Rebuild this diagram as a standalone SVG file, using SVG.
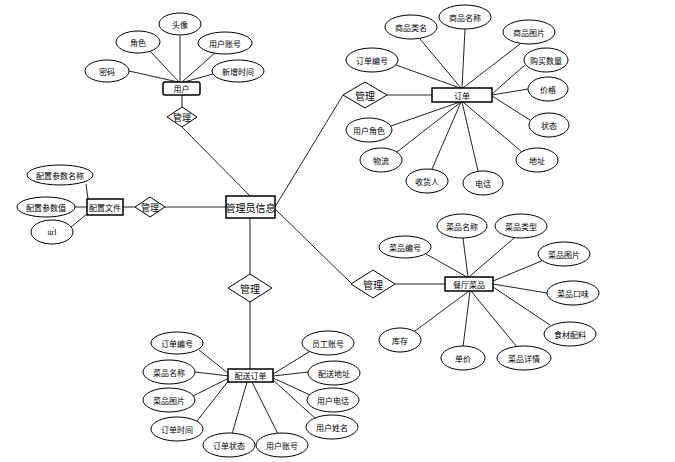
<svg xmlns="http://www.w3.org/2000/svg" width="675" height="462" viewBox="0 0 675 462">
<style>
.e{fill:#fff;stroke:#000;stroke-width:1}
.r{fill:#fff;stroke:#000;stroke-width:1.5}
.d{fill:#fff;stroke:#000;stroke-width:1}
.l{stroke:#222;stroke-width:1;fill:none}
text{font-family:"Noto Sans CJK SC","Liberation Sans",sans-serif;font-size:8px;text-anchor:middle;dominant-baseline:central;fill:#000}
.b{font-size:10px}
.m{font-size:9px}
</style>
<rect width="675" height="462" fill="#fff"/>
<g id="connectors">
<!-- user -->
<line class="l" x1="129" y1="71" x2="178" y2="82"/>
<line class="l" x1="150" y1="51" x2="179" y2="82"/>
<line class="l" x1="180" y1="36" x2="180" y2="82"/>
<line class="l" x1="216" y1="52" x2="182" y2="82"/>
<line class="l" x1="213" y1="74" x2="184" y2="82"/>
<line class="l" x1="182" y1="95" x2="182" y2="107"/>
<line class="l" x1="182" y1="127" x2="250" y2="196"/>
<!-- order -->
<line class="l" x1="275" y1="207" x2="343" y2="95"/>
<line class="l" x1="387" y1="95" x2="432" y2="95"/>
<line class="l" x1="396" y1="65" x2="460" y2="88"/>
<line class="l" x1="420" y1="39" x2="461" y2="88"/>
<line class="l" x1="465" y1="29" x2="462" y2="88"/>
<line class="l" x1="520" y1="44" x2="463" y2="88"/>
<line class="l" x1="525" y1="65" x2="492" y2="94"/>
<line class="l" x1="528" y1="89" x2="492" y2="95"/>
<line class="l" x1="530" y1="120" x2="492" y2="96"/>
<line class="l" x1="522" y1="152" x2="463" y2="102"/>
<line class="l" x1="478" y1="171" x2="462" y2="102"/>
<line class="l" x1="432" y1="169" x2="461" y2="102"/>
<line class="l" x1="397" y1="152" x2="461" y2="102"/>
<line class="l" x1="391" y1="126" x2="460" y2="102"/>
<!-- config -->
<line class="l" x1="226" y1="207" x2="165" y2="207"/>
<line class="l" x1="135" y1="207" x2="123" y2="207"/>
<line class="l" x1="86" y1="184" x2="88" y2="199"/>
<line class="l" x1="75" y1="207" x2="87" y2="207"/>
<line class="l" x1="71" y1="227" x2="87" y2="214"/>
<!-- dish -->
<line class="l" x1="275" y1="209" x2="352" y2="284"/>
<line class="l" x1="395" y1="284" x2="445" y2="284"/>
<line class="l" x1="426" y1="254" x2="467" y2="277"/>
<line class="l" x1="463" y1="238" x2="468" y2="277"/>
<line class="l" x1="514" y1="238" x2="469" y2="277"/>
<line class="l" x1="544" y1="260" x2="493" y2="281"/>
<line class="l" x1="547" y1="293" x2="493" y2="284"/>
<line class="l" x1="550" y1="325" x2="493" y2="287"/>
<line class="l" x1="517" y1="347" x2="471" y2="291"/>
<line class="l" x1="463" y1="347" x2="470" y2="291"/>
<line class="l" x1="415" y1="331" x2="469" y2="291"/>
<!-- delivery -->
<line class="l" x1="250" y1="218" x2="250" y2="274"/>
<line class="l" x1="250" y1="302" x2="250" y2="369"/>
<line class="l" x1="199" y1="350" x2="229" y2="374"/>
<line class="l" x1="195" y1="372" x2="229" y2="376"/>
<line class="l" x1="193" y1="396" x2="229" y2="378"/>
<line class="l" x1="197" y1="421" x2="229" y2="380"/>
<line class="l" x1="232" y1="434" x2="247" y2="382"/>
<line class="l" x1="278" y1="434" x2="252" y2="382"/>
<line class="l" x1="312" y1="350" x2="273" y2="374"/>
<line class="l" x1="308" y1="372" x2="273" y2="376"/>
<line class="l" x1="310" y1="395" x2="273" y2="378"/>
<line class="l" x1="316" y1="419" x2="273" y2="380"/>
</g>
<g id="admin">
<rect class="r" x="226" y="196" width="49" height="22"/>
<text class="b" x="250.5" y="207">管理员信息</text>
</g>
<g id="user">
<rect class="r" x="163" y="82" width="37" height="13" rx="2"/>
<text x="181.5" y="88.5">用户</text>
</g>
<g id="user-manage">
<polygon class="d" points="182,107 197,117 182,127 167,117"/>
<text class="m" x="182" y="117">管理</text>
</g>
<g id="u-pwd"><ellipse class="e" cx="107" cy="71" rx="22" ry="11"/><text x="107" y="71">密码</text></g>
<g id="u-role"><ellipse class="e" cx="138" cy="42" rx="22" ry="11"/><text x="138" y="42">角色</text></g>
<g id="u-avatar"><ellipse class="e" cx="180" cy="24" rx="21" ry="11"/><text x="180" y="24">头像</text></g>
<g id="u-acct"><ellipse class="e" cx="225" cy="43" rx="27" ry="11"/><text x="225" y="43">用户账号</text></g>
<g id="u-time"><ellipse class="e" cx="238" cy="71" rx="26" ry="11"/><text x="238" y="71">新增时间</text></g>

<g id="order-manage">
<polygon class="d" points="365,82 387,95 365,108 343,95"/>
<text class="b" x="365" y="95">管理</text>
</g>
<g id="order">
<rect class="r" x="432" y="88" width="60" height="14"/>
<text x="462" y="95">订单</text>
</g>
<g id="o-cat"><ellipse class="e" cx="411" cy="27" rx="26" ry="12"/><text x="411" y="27">商品类名</text></g>
<g id="o-name"><ellipse class="e" cx="465" cy="17" rx="26" ry="12"/><text x="465" y="17">商品名称</text></g>
<g id="o-img"><ellipse class="e" cx="529" cy="32" rx="26" ry="12"/><text x="529" y="32">商品图片</text></g>
<g id="o-no"><ellipse class="e" cx="372" cy="60" rx="26" ry="12"/><text x="372" y="60">订单编号</text></g>
<g id="o-qty"><ellipse class="e" cx="546" cy="60" rx="22" ry="12"/><text x="546" y="60">购买数量</text></g>
<g id="o-price"><ellipse class="e" cx="548" cy="89" rx="20" ry="12"/><text x="548" y="89">价格</text></g>
<g id="o-status"><ellipse class="e" cx="549" cy="125" rx="20" ry="12"/><text x="549" y="125">状态</text></g>
<g id="o-addr"><ellipse class="e" cx="537" cy="160" rx="21" ry="12"/><text x="537" y="160">地址</text></g>
<g id="o-tel"><ellipse class="e" cx="483" cy="183" rx="20" ry="12"/><text x="483" y="183">电话</text></g>
<g id="o-recv"><ellipse class="e" cx="427" cy="181" rx="21" ry="12"/><text x="427" y="181">收货人</text></g>
<g id="o-log"><ellipse class="e" cx="381" cy="160" rx="21" ry="12"/><text x="381" y="160">物流</text></g>
<g id="o-role"><ellipse class="e" cx="369" cy="130" rx="23" ry="12"/><text x="369" y="130">用户角色</text></g>

<g id="config-manage">
<polygon class="d" points="150,197 165,207 150,217 135,207"/>
<text class="m" x="150" y="207">管理</text>
</g>
<g id="config">
<rect class="r" x="87" y="199" width="36" height="16"/>
<text x="105" y="207">配置文件</text>
</g>
<g id="c-name"><ellipse class="e" cx="60" cy="175" rx="33" ry="10"/><text x="60" y="175">配置参数名称</text></g>
<g id="c-val"><ellipse class="e" cx="46" cy="207" rx="29" ry="10"/><text x="46" y="207">配置参数值</text></g>
<g id="c-url"><ellipse class="e" cx="52" cy="232" rx="21" ry="12"/><text x="52" y="232" style="font-family:'Liberation Serif',serif">url</text></g>

<g id="dish-manage">
<polygon class="d" points="373,270 395,284 373,298 351,284"/>
<text class="b" x="373" y="284">管理</text>
</g>
<g id="dish">
<rect class="r" x="445" y="277" width="48" height="14"/>
<text x="469" y="284">餐厅菜品</text>
</g>
<g id="d-no"><ellipse class="e" cx="405" cy="247" rx="26" ry="11"/><text x="405" y="247">菜品编号</text></g>
<g id="d-name"><ellipse class="e" cx="462" cy="226" rx="25" ry="12"/><text x="462" y="226">菜品名称</text></g>
<g id="d-type"><ellipse class="e" cx="521" cy="226" rx="26" ry="12"/><text x="521" y="226">菜品类型</text></g>
<g id="d-img"><ellipse class="e" cx="564" cy="254" rx="26" ry="12"/><text x="564" y="254">菜品图片</text></g>
<g id="d-taste"><ellipse class="e" cx="573" cy="293" rx="26" ry="12"/><text x="573" y="293">菜品口味</text></g>
<g id="d-ingr"><ellipse class="e" cx="570" cy="334" rx="26" ry="12"/><text x="570" y="334">食材配料</text></g>
<g id="d-detail"><ellipse class="e" cx="524" cy="358" rx="27" ry="12"/><text x="524" y="358">菜品详情</text></g>
<g id="d-price"><ellipse class="e" cx="463" cy="358" rx="22" ry="12"/><text x="463" y="358">单价</text></g>
<g id="d-stock"><ellipse class="e" cx="400" cy="340" rx="21" ry="12"/><text x="400" y="340">库存</text></g>

<g id="delivery-manage">
<polygon class="d" points="250,274 272,288 250,302 228,288"/>
<text class="b" x="250" y="288">管理</text>
</g>
<g id="delivery">
<rect class="r" x="228" y="369" width="45" height="13"/>
<text x="250.5" y="375.5">配送订单</text>
</g>
<g id="p-no"><ellipse class="e" cx="177" cy="343" rx="26" ry="11"/><text x="177" y="343">订单编号</text></g>
<g id="p-name"><ellipse class="e" cx="169" cy="372" rx="26" ry="12"/><text x="169" y="372">菜品名称</text></g>
<g id="p-img"><ellipse class="e" cx="169" cy="400" rx="26" ry="12"/><text x="169" y="400">菜品图片</text></g>
<g id="p-time"><ellipse class="e" cx="177" cy="429" rx="26" ry="12"/><text x="177" y="429">订单时间</text></g>
<g id="p-status"><ellipse class="e" cx="229" cy="445" rx="26" ry="12"/><text x="229" y="445">订单状态</text></g>
<g id="p-acct"><ellipse class="e" cx="282" cy="445" rx="26" ry="12"/><text x="282" y="445">用户账号</text></g>
<g id="p-uname"><ellipse class="e" cx="332" cy="427" rx="26" ry="12"/><text x="332" y="427">用户姓名</text></g>
<g id="p-tel"><ellipse class="e" cx="333" cy="400" rx="26" ry="12"/><text x="333" y="400">用户电话</text></g>
<g id="p-addr"><ellipse class="e" cx="334" cy="373" rx="26" ry="12"/><text x="334" y="373">配送地址</text></g>
<g id="p-staff"><ellipse class="e" cx="328" cy="343" rx="26" ry="12"/><text x="328" y="343">员工账号</text></g>
</svg>
